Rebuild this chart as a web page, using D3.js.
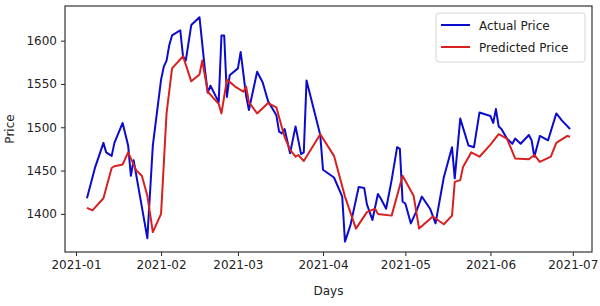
<!DOCTYPE html>
<html>
<head>
<meta charset="utf-8">
<script src="https://cdn.jsdelivr.net/npm/d3@7"></script>
<style>
  body { margin: 0; background: #fff; }
  text { font-family: "DejaVu Sans", sans-serif; fill: #222; }
</style>
</head>
<body>
<div id="chart"></div>
<script>
// values (vertices of the two polylines)
var actualDates = ["2021-01-05","2021-01-08","2021-01-11","2021-01-12","2021-01-14","2021-01-15","2021-01-18","2021-01-20","2021-01-21","2021-01-22",
  "2021-01-27","2021-01-29","2021-02-01","2021-02-02","2021-02-03","2021-02-04","2021-02-05","2021-02-08","2021-02-09","2021-02-10",
  "2021-02-12","2021-02-15","2021-02-17","2021-02-18","2021-02-19","2021-02-22","2021-02-23","2021-02-24","2021-02-25","2021-02-26",
  "2021-03-01","2021-03-02","2021-03-04","2021-03-05","2021-03-08","2021-03-10","2021-03-12","2021-03-15","2021-03-16","2021-03-17",
  "2021-03-18","2021-03-20","2021-03-22","2021-03-24","2021-03-25","2021-03-26","2021-03-31","2021-04-01","2021-04-05","2021-04-08",
  "2021-04-09","2021-04-11","2021-04-14","2021-04-16","2021-04-17","2021-04-19","2021-04-21","2021-04-22","2021-04-24","2021-04-26",
  "2021-04-28","2021-04-29","2021-04-30","2021-05-01","2021-05-03","2021-05-05","2021-05-07","2021-05-10","2021-05-12","2021-05-15",
  "2021-05-18","2021-05-19","2021-05-21","2021-05-24","2021-05-26","2021-05-28","2021-06-01","2021-06-02","2021-06-03","2021-06-04",
  "2021-06-05","2021-06-07","2021-06-09","2021-06-10","2021-06-12","2021-06-15","2021-06-16","2021-06-17","2021-06-19","2021-06-22",
  "2021-06-25","2021-06-27","2021-06-30"];
var actualPrices = [1418,1454,1482,1471,1467,1482,1505,1479,1444,1462,
  1372,1479,1555,1570,1577,1595,1606,1612,1582,1577,
  1618,1627,1566,1540,1548,1529,1606,1606,1535,1560,
  1568,1587,1536,1520,1564,1552,1530,1514,1495,1493,
  1498,1470,1501,1469,1471,1554,1491,1451,1442,1420,
  1368,1387,1431,1430,1411,1393,1423,1418,1406,1439,
  1477,1475,1414,1412,1389,1403,1420,1406,1389,1442,
  1477,1441,1510,1479,1477,1517,1513,1505,1521,1501,
  1498,1487,1481,1487,1481,1491,1485,1466,1490,1485,
  1516,1508,1498];

var predDates = ["2021-01-05","2021-01-07","2021-01-11","2021-01-14","2021-01-15","2021-01-18","2021-01-20","2021-01-21","2021-01-23","2021-01-25",
  "2021-01-27","2021-01-29","2021-02-01","2021-02-03","2021-02-05","2021-02-09","2021-02-12","2021-02-15","2021-02-16","2021-02-18",
  "2021-02-22","2021-02-23","2021-02-25","2021-02-28","2021-03-03","2021-03-04","2021-03-05","2021-03-08","2021-03-12","2021-03-15",
  "2021-03-17","2021-03-18","2021-03-20","2021-03-22","2021-03-23","2021-03-25","2021-03-31","2021-04-05","2021-04-09","2021-04-13",
  "2021-04-17","2021-04-20","2021-04-21","2021-04-26","2021-04-30","2021-05-04","2021-05-06","2021-05-11","2021-05-15","2021-05-18",
  "2021-05-19","2021-05-21","2021-05-22","2021-05-25","2021-05-28","2021-06-01","2021-06-04","2021-06-07","2021-06-10","2021-06-15",
  "2021-06-17","2021-06-19","2021-06-23","2021-06-25","2021-06-29","2021-06-30"];
var predPrices = [1407,1404,1418,1453,1455,1457,1471,1464,1450,1444,
  1421,1379,1400,1516,1568,1582,1553,1561,1577,1541,
  1527,1516,1555,1547,1541,1547,1529,1516,1528,1523,
  1500,1489,1474,1466,1468,1461,1492,1467,1420,1383,
  1402,1406,1400,1398,1444,1421,1383,1397,1388,1398,
  1437,1439,1454,1471,1466,1480,1492,1487,1464,1463,
  1468,1460,1466,1482,1490,1489];

var yTicks = [1400, 1450, 1500, 1550, 1600];
var monthTicks = ["2021-01-01","2021-02-01","2021-03-01","2021-04-01","2021-05-01","2021-06-01","2021-07-01"];
var seriesNames = ["Actual Price", "Predicted Price"];
var seriesColors = ["#0b0bcf", "#d92020"];

var width = 600, height = 306;
var margin = {left: 65, right: 8, top: 6, bottom: 54};
var parse = d3.timeParse("%Y-%m-%d");

var svg = d3.select("#chart")
  .append("svg")
  .attr("width", width)
  .attr("height", height);

var x = d3.scaleTime()
  .domain([parse("2020-12-28"), parse("2021-07-08")])
  .range([margin.left, width - margin.right]);
var y = d3.scaleLinear()
  .domain([1356, 1640])
  .range([height - margin.bottom, margin.top]);

var series = [
  actualDates.map(function(d, i) { return {date: parse(d), value: actualPrices[i]}; }),
  predDates.map(function(d, i) { return {date: parse(d), value: predPrices[i]}; })
];

var line = d3.line()
  .x(function(d) { return x(d.date); })
  .y(function(d) { return y(d.value); });

// axes
svg.append("g")
  .attr("transform", "translate(0," + (height - margin.bottom) + ")")
  .call(d3.axisBottom(x)
    .tickValues(monthTicks.map(parse))
    .tickFormat(d3.timeFormat("%Y-%m"))
    .tickSizeOuter(0)
    .tickSize(4)
    .tickPadding(4));
svg.append("g")
  .attr("transform", "translate(" + margin.left + ",0)")
  .call(d3.axisLeft(y)
    .tickValues(yTicks)
    .tickFormat(d3.format("d"))
    .tickSizeOuter(0)
    .tickSize(4)
    .tickPadding(4));
svg.selectAll(".tick text").attr("font-size", 12).attr("font-family", "DejaVu Sans").attr("fill", "#222");
svg.selectAll(".tick line").attr("stroke", "#222");
svg.selectAll(".domain").remove();

// frame
svg.append("rect")
  .attr("x", margin.left)
  .attr("y", margin.top)
  .attr("width", width - margin.left - margin.right)
  .attr("height", height - margin.top - margin.bottom)
  .attr("fill", "none")
  .attr("stroke", "#333")
  .attr("stroke-width", 1.2);

// lines
svg.selectAll(".series")
  .data(series)
  .enter()
  .append("path")
  .attr("class", "series")
  .attr("d", line)
  .attr("fill", "none")
  .attr("stroke", function(d, i) { return seriesColors[i]; })
  .attr("stroke-width", 2)
  .attr("stroke-linejoin", "round");

// axis titles
svg.append("text")
  .attr("x", (margin.left + width - margin.right) / 2)
  .attr("y", 295)
  .attr("text-anchor", "middle")
  .attr("font-size", 12)
  .text("Days");
svg.append("text")
  .attr("transform", "translate(14," + ((margin.top + height - margin.bottom) / 2) + ") rotate(-90)")
  .attr("text-anchor", "middle")
  .attr("font-size", 12)
  .text("Price");

// legend
var legend = svg.append("g").attr("transform", "translate(436,13)");
legend.append("rect")
  .attr("width", 149)
  .attr("height", 49)
  .attr("rx", 3)
  .attr("fill", "#fff")
  .attr("fill-opacity", 0.8)
  .attr("stroke", "#d6d6d6");
seriesNames.forEach(function(name, i) {
  legend.append("line")
    .attr("x1", 5).attr("x2", 34)
    .attr("y1", 12 + i * 22).attr("y2", 12 + i * 22)
    .attr("stroke", seriesColors[i])
    .attr("stroke-width", 2);
  legend.append("text")
    .attr("x", 43)
    .attr("y", 16.5 + i * 22)
    .attr("font-size", 12)
    .text(name);
});
</script>
</body>
</html>
